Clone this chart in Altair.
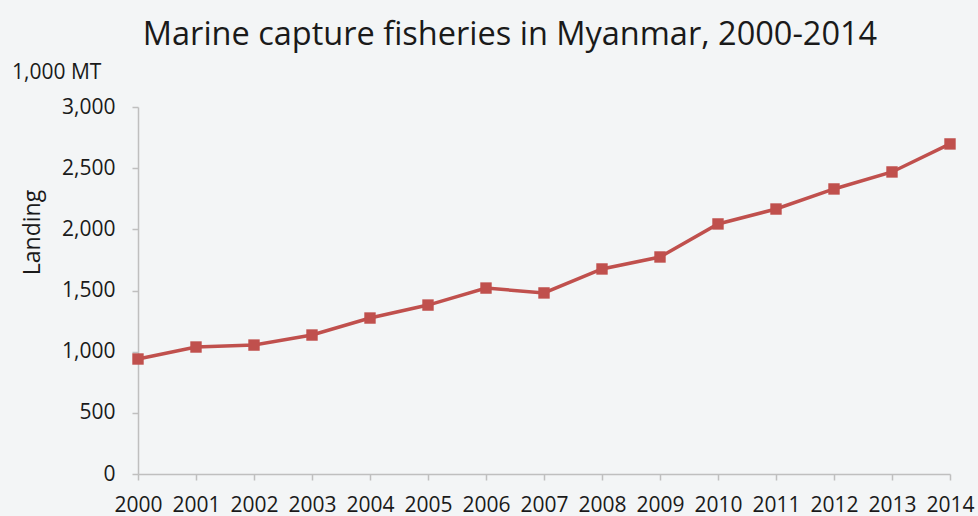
import altair as alt
import pandas as pd

years = [str(y) for y in range(2000, 2015)]
landing = [940, 1038, 1054, 1136, 1275, 1381, 1520, 1480, 1676, 1774, 2044, 2166, 2330, 2469, 2698]
unit_label = ["1,000 MT"]

df = pd.DataFrame({"year": years, "landing": landing})
FONT = "Open Sans"
RED = "#C0504D"
AX = "#BFBFBF"
TXT = "#1a1a1a"

base = alt.Chart(df)

line = base.mark_line(color=RED, strokeWidth=3.5).encode(
    x=alt.X("year:O", scale=alt.Scale(type="point", padding=0),
            axis=alt.Axis(title=None, labelAngle=0, labelFont=FONT, labelFontSize=21,
                          labelColor=TXT, domainColor=AX, tickColor=AX,
                          tickSize=6, labelPadding=14, grid=False, domainWidth=1.5, tickWidth=1.5)),
    y=alt.Y("landing:Q", scale=alt.Scale(domain=[0, 3000], nice=False),
            axis=alt.Axis(title="Landing", values=[0, 500, 1000, 1500, 2000, 2500, 3000],
                          format=",d", labelFont=FONT, labelFontSize=21, labelColor=TXT,
                          titleFont=FONT, titleFontSize=23, titleFontWeight="normal",
                          titleColor=TXT, titleX=-106, titleY=125, titleAngle=270,
                          titleAlign="center", titleBaseline="middle",
                          domainColor=AX, tickColor=AX, tickSize=6, labelPadding=17,
                          grid=False, domainWidth=1.5, tickWidth=1.5)),
)

points = base.mark_point(shape="square", filled=True, color=RED, size=130, opacity=1).encode(
    x="year:O", y="landing:Q"
)

unit = alt.Chart(pd.DataFrame({"t": unit_label})).mark_text(
    font=FONT, fontSize=21, color=TXT, align="left", baseline="middle"
).encode(text="t:N", x=alt.value(-126), y=alt.value(-34))

chart = (line + points + unit).properties(
    width=812, height=367,
    title=alt.TitleParams("Marine capture fisheries in Myanmar, 2000-2014", font=FONT,
                          fontSize=32.5, fontWeight="normal", color=TXT,
                          anchor="middle", dx=-34, offset=11),
    padding={"left": 138, "top": 107, "right": 28, "bottom": 42},
    autosize=alt.AutoSizeParams(type="none"),
    background="#F3F5F6",
).configure_view(stroke=None)

chart.save("out.html", embed_options={"renderer": "svg", "actions": False})
